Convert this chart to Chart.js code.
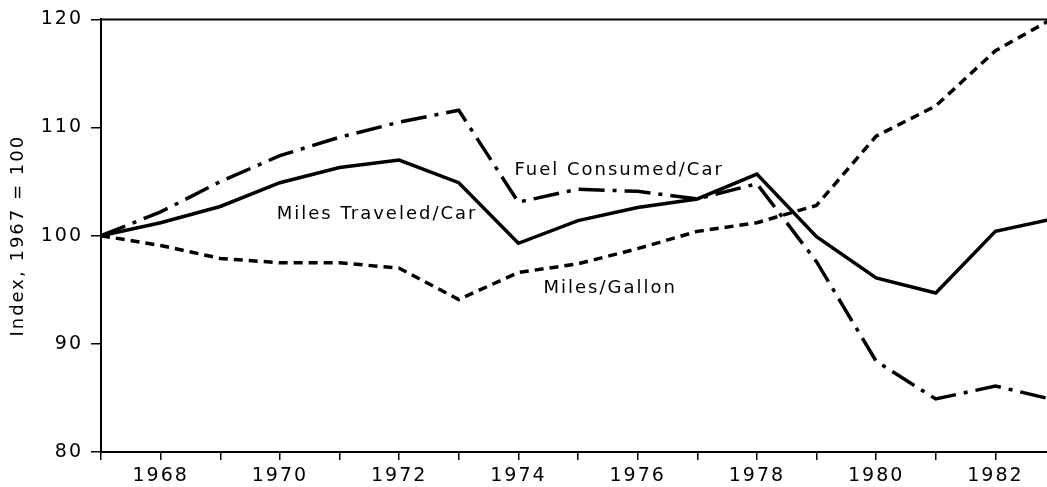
<!DOCTYPE html>
<html>
<head>
<meta charset="utf-8">
<script src="https://cdn.jsdelivr.net/npm/chart.js@4/dist/chart.umd.min.js"></script>
<style>
  html, body { margin: 0; padding: 0; background: #fff; overflow: hidden; width: 1047px; height: 487px; }
  canvas { display: block; }
</style>
</head>
<body>
<canvas id="c" width="1060" height="487"></canvas>
<script>
// ---- data ----
const years = [1967,1968,1969,1970,1971,1972,1973,1974,1975,1976,1977,1978,1979,1980,1981,1982,1983];
const milesTraveledPerCar = [100,101.2,102.7,104.9,106.3,107.0,104.9,99.3,101.4,102.6,103.4,105.7,99.9,96.1,94.7,100.4,101.6];
const fuelConsumedPerCar  = [100,102.2,105.0,107.4,109.1,110.5,111.6,103.1,104.3,104.1,103.4,104.8,97.6,88.4,84.9,86.1,84.8];
const milesPerGallon      = [100,99.1,97.9,97.5,97.5,97.0,94.1,96.6,97.4,98.8,100.4,101.2,102.8,109.2,112.0,117.1,120.2];
const yTicks = [80, 90, 100, 110, 120];
const xLabelYears = [1968,1970,1972,1974,1976,1978,1980,1982];
const seriesLabels = ['Miles Traveled/Car', 'Fuel Consumed/Car', 'Miles/Gallon'];
const annotations = [
  { text: 'Fuel Consumed/Car',  x: 1975.69, y: 106.05 },
  { text: 'Miles Traveled/Car', x: 1971.63, y: 101.99 },
  { text: 'Miles/Gallon',       x: 1975.54, y: 95.15 }
];
const yTitle = 'Index, 1967 = 100';

const FONT = 'DejaVu Sans';

function pts(vals) { return years.map((y, i) => ({ x: y, y: vals[i] })); }

const spacingPlugin = {
  id: 'spacing',
  beforeUpdate(chart) { chart.ctx.letterSpacing = '2px'; },
  beforeDraw(chart) { chart.ctx.letterSpacing = '2px'; }
};

const framePlugin = {
  id: 'frame',
  afterDraw(chart) {
    const { ctx, chartArea: a, scales } = chart;
    ctx.save();
    ctx.strokeStyle = '#000';
    ctx.lineWidth = 2;
    ctx.beginPath();
    ctx.moveTo(a.left, a.top);
    ctx.lineTo(a.right, a.top);
    ctx.lineTo(a.right, a.bottom);
    ctx.stroke();
    ctx.fillStyle = '#000';
    ctx.font = '18px "' + FONT + '"';
    ctx.letterSpacing = '2px';
    ctx.textAlign = 'center';
    ctx.textBaseline = 'middle';
    annotations.forEach(an => {
      ctx.fillText(an.text, scales.x.getPixelForValue(an.x), scales.y.getPixelForValue(an.y));
    });
    ctx.restore();
  }
};

new Chart(document.getElementById('c'), {
  type: 'line',
  data: {
    datasets: [
      { label: seriesLabels[0], data: pts(milesTraveledPerCar), borderColor: '#000', borderWidth: 3.5 },
      { label: seriesLabels[1], data: pts(fuelConsumedPerCar), borderColor: '#000', borderWidth: 3.5, borderDash: [26, 8, 4, 8] },
      { label: seriesLabels[2], data: pts(milesPerGallon), borderColor: '#000', borderWidth: 3.5, borderDash: [9, 6] }
    ]
  },
  options: {
    responsive: false,
    animation: false,
    events: [],
    layout: { padding: { top: 19, right: 4, left: 0, bottom: 0 } },
    elements: { point: { radius: 0 }, line: { tension: 0, borderCapStyle: 'butt', borderJoinStyle: 'miter' } },
    plugins: { legend: { display: false }, tooltip: { enabled: false } },
    scales: {
      x: {
        type: 'linear',
        min: 1967, max: 1983,
        afterFit(s) { s.height = 35; },
        ticks: {
          stepSize: 1, autoSkip: false, maxRotation: 0, maxTicksLimit: 30,
          color: '#000', padding: 5,
          font: { family: FONT, size: 19 },
          callback: (v) => xLabelYears.includes(v) ? String(v) : ''
        },
        grid: { drawOnChartArea: false, drawTicks: true, tickLength: 8, color: '#000', lineWidth: 1.5 },
        border: { display: true, color: '#000', width: 2 }
      },
      y: {
        min: 80, max: 120,
        afterFit(s) { s.width = 101; },
        afterBuildTicks(s) { s.ticks = yTicks.map(v => ({ value: v })); },
        ticks: {
          color: '#000', padding: 8,
          font: { family: FONT, size: 19 }
        },
        grid: { drawOnChartArea: false, drawTicks: true, tickLength: 10, color: '#000', lineWidth: 1.5 },
        border: { display: true, color: '#000', width: 2 },
        title: {
          display: true, text: yTitle, color: '#000',
          font: { family: FONT, size: 18 },
          padding: { top: 8, bottom: 0 }
        }
      }
    }
  },
  plugins: [spacingPlugin, framePlugin]
});
</script>
</body>
</html>
